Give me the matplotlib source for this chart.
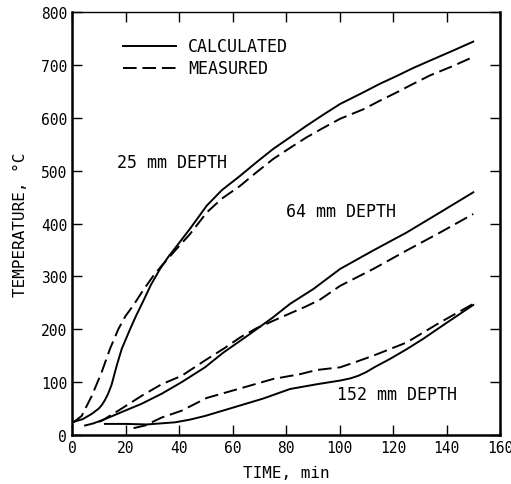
import matplotlib
matplotlib.use('Agg')
import matplotlib.pyplot as plt

# 25 mm depth
t25_calc = [0, 4, 7.4, 10, 11.2, 12.3, 13.5, 14.8, 16.7, 18.6, 21.7, 24, 26.7, 29.5, 32.9, 36, 39.1, 44.1,
            50.4, 56, 62.8, 69, 75.2, 81.5, 87.7, 94, 100.2, 108.9, 115, 121.4, 127.5, 133.8, 142, 150]
T25_calc = [24, 30, 40, 50, 57, 66, 78, 95, 131, 163, 200, 226, 254, 284, 314, 337, 357, 390,
            434, 463, 490, 516, 541, 563, 585, 606, 626, 648, 664, 679, 694, 708, 726, 744]
t25_meas = [0.5, 3.6, 7.4, 11.1, 14.2, 17.3, 20, 22.9, 26.5, 30.4, 33.5, 39.1, 44.1, 50.4, 56, 62.8, 69,
            75.2, 81.5, 87.7, 94, 100.2, 108.9, 115, 121.4, 127.5, 133.8, 142, 150]
T25_meas = [24, 36, 74, 119, 163, 200, 225, 245, 273, 301, 320, 352, 380, 421, 447, 471, 497,
            522, 543, 563, 581, 598, 616, 632, 648, 664, 680, 697, 715]

# 64 mm depth
t64_calc = [4.9, 8, 12.3, 19.8, 26, 33.5, 41, 49.7, 56.6, 66.5, 75, 81.5, 90.2, 100.2, 112.6, 125.1, 137.6, 150]
T64_calc = [18, 22, 30, 46, 59, 78, 100, 128, 156, 191, 222, 248, 276, 314, 349, 383, 421, 459]
t64_meas = [10, 11.1, 17.3, 26, 33.5, 41, 49.7, 56.6, 63, 69, 75.2, 81.5, 87, 92.7, 100.2, 112.6,
            125.1, 137.6, 150]
T64_meas = [25, 27, 46, 74, 96, 112, 141, 163, 185, 202, 216, 230, 242, 256, 282, 314,
            349, 383, 418]

# 152 mm depth
t152_calc = [12.3, 20, 28, 38.5, 44, 49.7, 60.3, 71.5, 81.5, 91.5, 100.2, 104, 107, 110, 113, 118.9,
             125, 131.3, 140, 150]
T152_calc = [21, 21, 20, 24, 29, 36, 52, 69, 87, 96, 103, 107, 112, 119, 128, 144,
             162, 182, 212, 246]
t152_meas = [23, 27.3, 33.5, 41, 50.3, 62.8, 75.2, 85.2, 91.5, 100.2, 106, 112.6, 125.1, 137.6, 150]
T152_meas = [13, 18, 33, 46, 70, 88, 106, 115, 123, 128, 138, 150, 175, 213, 248]

xticks = [0, 20, 40, 60, 80, 100, 120, 140, 160]
yticks = [0, 100, 200, 300, 400, 500, 600, 700, 800]

plt.rcParams['font.family'] = ['DejaVu Sans Mono']
fig = plt.figure(figsize=(5.11, 4.85), dpi=100)
ax = fig.add_axes([0.1409, 0.101, 0.8376, 0.8722])

dash = (0, (7, 3))
lw = 1.4
ax.plot(t25_calc, T25_calc, '-', color='black', lw=lw)
ax.plot(t25_meas, T25_meas, linestyle=dash, color='black', lw=lw)
ax.plot(t64_calc, T64_calc, '-', color='black', lw=lw)
ax.plot(t64_meas, T64_meas, linestyle=dash, color='black', lw=lw)
ax.plot(t152_calc, T152_calc, '-', color='black', lw=lw)
ax.plot(t152_meas, T152_meas, linestyle=dash, color='black', lw=lw)

# legend drawn by hand like the original
ax.plot([19, 39], [735, 735], '-', color='black', lw=lw)
ax.plot([19, 39], [695, 695], linestyle=dash, color='black', lw=lw)
ax.text(43.5, 735, 'CALCULATED', fontsize=12, va='center', ha='left')
ax.text(43.5, 695, 'MEASURED', fontsize=12, va='center', ha='left')

ax.text(17, 516, '25 mm DEPTH', fontsize=12, va='center', ha='left')
ax.text(80, 424, '64 mm DEPTH', fontsize=12, va='center', ha='left')
ax.text(99, 78, '152 mm DEPTH', fontsize=12, va='center', ha='left')

ax.set_xlim(0, 160)
ax.set_ylim(0, 800)
ax.set_xticks(xticks)
ax.set_yticks(yticks)
ax.tick_params(direction='in', length=7, width=1, top=True, right=True, labelsize=10.5)
for s in ['left', 'bottom', 'right']:
    ax.spines[s].set_linewidth(1.8)
ax.spines['top'].set_linewidth(1.0)

ax.set_xlabel('TIME, min', fontsize=11.5, labelpad=7)
ax.set_ylabel('TEMPERATURE, \u00b0C', fontsize=11.5, labelpad=9)

fig.savefig('out.png', dpi=100)
